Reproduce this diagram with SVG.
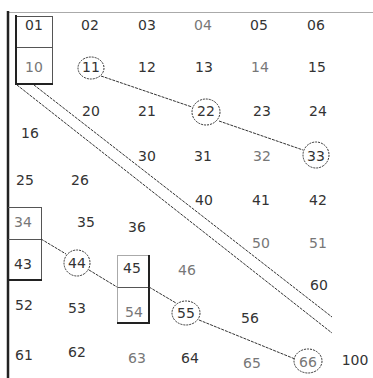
<svg xmlns="http://www.w3.org/2000/svg" width="373" height="378" viewBox="0 0 373 378">
<style>
text{font-family:"DejaVu Sans","Liberation Sans",sans-serif;font-size:14px;fill:#333;text-anchor:middle;dominant-baseline:central}
text.lt{fill:#777}
.c{fill:none;stroke:#333;stroke-width:1;stroke-dasharray:2 1}
.ln{fill:none;stroke:#333;stroke-width:1;stroke-dasharray:3 1}
.thin{stroke:#555;stroke-width:1;fill:none}
.gray{stroke:#aaa;stroke-width:1;fill:none}
.thick{stroke:#222;stroke-width:2;fill:none}
</style>
<rect width="373" height="378" fill="#fff"/>
<g id="frame">
<line x1="9" y1="12.5" x2="373" y2="12.5" class="gray"/>
<line x1="8" y1="11" x2="8" y2="378" stroke="#222" stroke-width="2.5"/>
</g>
<g id="box-01-10">
<line x1="16" y1="16.5" x2="52.5" y2="16.5" class="thin"/>
<line x1="52.5" y1="16" x2="52.5" y2="84" class="thin"/>
<line x1="16" y1="47.5" x2="52.5" y2="47.5" class="thin"/>
<line x1="16" y1="15" x2="16" y2="85" class="thick"/>
<line x1="15" y1="84" x2="53" y2="84" class="thick"/>
</g>
<g id="box-34-43">
<line x1="8" y1="207.5" x2="41.5" y2="207.5" class="thin"/>
<line x1="41.5" y1="207" x2="41.5" y2="280" class="thin"/>
<line x1="8" y1="239.5" x2="41.5" y2="239.5" class="thin"/>
<line x1="8" y1="280" x2="42" y2="280" class="thick"/>
</g>
<g id="box-45-54">
<line x1="117.5" y1="255.5" x2="149" y2="255.5" class="gray"/>
<line x1="117.5" y1="255" x2="117.5" y2="323" class="gray"/>
<line x1="117.5" y1="287.5" x2="149" y2="287.5" class="thin"/>
<line x1="149" y1="255" x2="149" y2="324" class="thick"/>
<line x1="117" y1="323" x2="150" y2="323" class="thick"/>
</g>
<g id="connectors">
<line x1="17" y1="85" x2="332" y2="333" class="ln"/>
<line x1="34" y1="85" x2="332" y2="317" class="ln"/>
<line x1="101" y1="76" x2="192" y2="107" class="ln"/>
<line x1="219" y1="121" x2="303" y2="150" class="ln"/>
<line x1="41" y1="239" x2="66" y2="254" class="ln"/>
<line x1="89" y1="270" x2="117" y2="287" class="ln"/>
<line x1="149" y1="287" x2="176" y2="303" class="ln"/>
<line x1="199" y1="320" x2="295" y2="359" class="ln"/>
</g>
<g id="n01"><text x="34" y="25">01</text></g>
<g id="n02"><text x="90" y="25">02</text></g>
<g id="n03"><text x="147" y="25">03</text></g>
<g id="n04"><text x="203" y="25" class="lt">04</text></g>
<g id="n05"><text x="259" y="25">05</text></g>
<g id="n06"><text x="316" y="25">06</text></g>
<g id="n10"><text x="34" y="67" class="lt">10</text></g>
<g id="n11"><ellipse cx="91" cy="68" rx="13" ry="11" class="c"/><text x="91" y="67">11</text></g>
<g id="n12"><text x="147" y="67">12</text></g>
<g id="n13"><text x="204" y="67">13</text></g>
<g id="n14"><text x="260" y="67" class="lt">14</text></g>
<g id="n15"><text x="317" y="67">15</text></g>
<g id="n20"><text x="91" y="111">20</text></g>
<g id="n21"><text x="147" y="111">21</text></g>
<g id="n22"><ellipse cx="206" cy="112" rx="14" ry="13" class="c"/><text x="206" y="111">22</text></g>
<g id="n23"><text x="262" y="111">23</text></g>
<g id="n24"><text x="318" y="111">24</text></g>
<g id="n16"><text x="30" y="133">16</text></g>
<g id="n30"><text x="147" y="156">30</text></g>
<g id="n31"><text x="203" y="156">31</text></g>
<g id="n32"><text x="262" y="156" class="lt">32</text></g>
<g id="n33"><ellipse cx="316" cy="155" rx="13" ry="13" class="c"/><text x="316" y="156">33</text></g>
<g id="n25"><text x="25" y="180">25</text></g>
<g id="n26"><text x="80" y="180">26</text></g>
<g id="n40"><text x="204" y="200">40</text></g>
<g id="n41"><text x="261" y="200">41</text></g>
<g id="n42"><text x="318" y="200">42</text></g>
<g id="n34"><text x="23" y="222" class="lt">34</text></g>
<g id="n35"><text x="86" y="222">35</text></g>
<g id="n36"><text x="137" y="227">36</text></g>
<g id="n50"><text x="261" y="243" class="lt">50</text></g>
<g id="n51"><text x="318" y="243" class="lt">51</text></g>
<g id="n43"><text x="23" y="264">43</text></g>
<g id="n44"><ellipse cx="77" cy="263" rx="13" ry="13" class="c"/><text x="77" y="263">44</text></g>
<g id="n45"><text x="132" y="268">45</text></g>
<g id="n46"><text x="187" y="270" class="lt">46</text></g>
<g id="n60"><text x="319" y="285">60</text></g>
<g id="n52"><text x="24" y="305">52</text></g>
<g id="n53"><text x="77" y="308">53</text></g>
<g id="n54"><text x="134" y="312" class="lt">54</text></g>
<g id="n55"><ellipse cx="186" cy="313" rx="14" ry="12" class="c"/><text x="186" y="313">55</text></g>
<g id="n56"><text x="250" y="318">56</text></g>
<g id="n61"><text x="24" y="355">61</text></g>
<g id="n62"><text x="77" y="352">62</text></g>
<g id="n63"><text x="137" y="358" class="lt">63</text></g>
<g id="n64"><text x="190" y="358">64</text></g>
<g id="n65"><text x="252" y="363" class="lt">65</text></g>
<g id="n66"><ellipse cx="308" cy="361" rx="14" ry="12" class="c"/><text x="308" y="362" class="lt">66</text></g>
<g id="n100"><text x="355" y="360">100</text></g>
</svg>
